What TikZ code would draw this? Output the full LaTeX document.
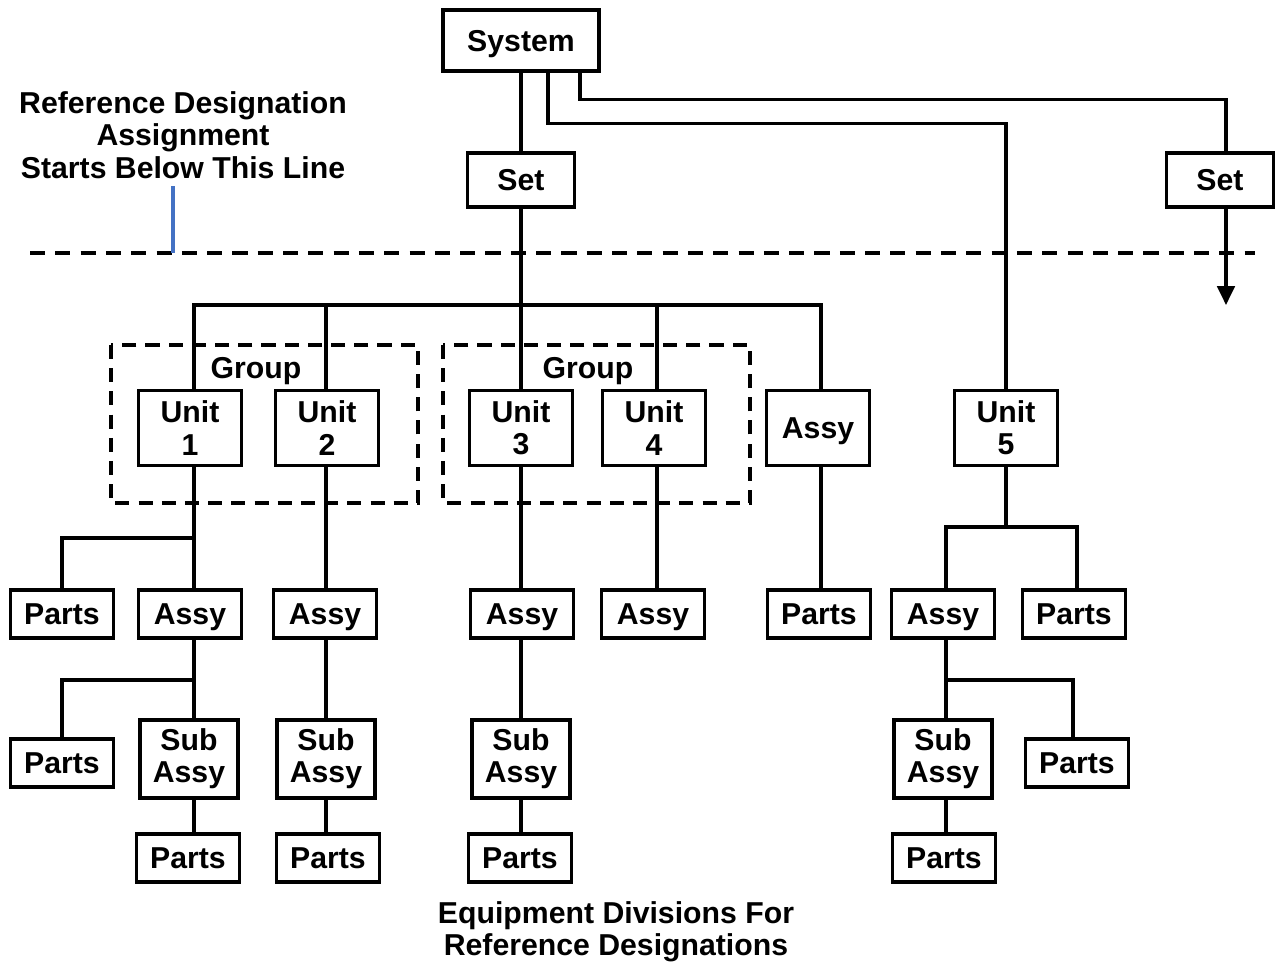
\documentclass[tikz,border=0pt]{standalone}
\usepackage{fontspec}
\setmainfont{Liberation Sans}
\usetikzlibrary{arrows.meta,positioning}
\definecolor{markblue}{HTML}{4472C4}

\tikzset{
  box/.style={draw,line width=0.9pt,fill=white,align=center,inner sep=1pt,
    minimum width=1.03cm,minimum height=0.48cm},
  blk/.style={box,text height=7pt,text depth=1pt},
  unitblk/.style={box,minimum height=0.75cm},
  subblk/.style={box,minimum width=0.98cm,minimum height=0.78cm},
  link/.style={line width=0.9pt},
  grpbox/.style={line width=0.9pt,dash pattern=on 4pt off 2.6pt},
}

\begin{document}
\begin{tikzpicture}[font=\fontsize{8.6}{9.2}\selectfont\bfseries]
\useasboundingbox (0,0) rectangle (12.75,-9.66);

% group frames
\draw[grpbox] (1.11,-3.45) rectangle (4.18,-5.03);
\draw[grpbox] (4.43,-3.45) rectangle (7.50,-5.03);
\node (grpA) at (2.56,-3.71) {Group};
\node (grpB) at (5.88,-3.71) {Group};

% assignment line
\coordinate (dashL) at (0.30,-2.53);
\coordinate (dashR) at (12.55,-2.53);
\draw[line width=0.9pt,dash pattern=on 4.3pt off 2.9pt] (dashL) -- (dashR);
\node[align=center] (refnote) at (1.83,-1.35) {Reference Designation\\Assignment\\Starts Below This Line};
\coordinate (marktop) at (1.73,-1.86);
\coordinate (markbot) at (1.73,-2.53);
\draw[markblue,line width=1pt] (marktop) -- (markbot);

% top levels
\node[blk,minimum width=1.56cm,minimum height=0.61cm] (sys) at (5.21,-0.405) {System};
\node[blk,minimum width=1.07cm,minimum height=0.54cm] (set1) at (5.21,-1.80) {Set};
\node[blk,minimum width=1.07cm,minimum height=0.54cm] (set2) at (12.20,-1.80) {Set};

% units
\node[unitblk] (u1) at (1.90,-4.28) {Unit\\1};
\node[unitblk] (u2) at (3.27,-4.28) {Unit\\2};
\node[unitblk] (u3) at (5.21,-4.28) {Unit\\3};
\node[unitblk] (u4) at (6.54,-4.28) {Unit\\4};
\node[blk,minimum height=0.75cm] (assyE) at (8.18,-4.28) {Assy};
\node[unitblk] (u5) at (10.06,-4.28) {Unit\\5};

% second row
\node[blk] (partsA) at (0.62,-6.14) {Parts};
\node[blk] (assyA) at (1.90,-6.14) {Assy};
\node[blk] (assyB) at (3.25,-6.14) {Assy};
\node[blk] (assyC) at (5.22,-6.14) {Assy};
\node[blk] (assyD) at (6.53,-6.14) {Assy};
\node[blk] (partsE) at (8.19,-6.14) {Parts};
\node[blk] (assyF) at (9.43,-6.14) {Assy};
\node[blk] (partsF) at (10.74,-6.14) {Parts};

% third row
\node[blk] (partsA2) at (0.62,-7.63) {Parts};
\node[subblk] (subA) at (1.89,-7.59) {Sub\\Assy};
\node[subblk] (subB) at (3.26,-7.59) {Sub\\Assy};
\node[subblk] (subC) at (5.21,-7.59) {Sub\\Assy};
\node[subblk] (subF) at (9.43,-7.59) {Sub\\Assy};
\node[blk] (partsF2) at (10.77,-7.63) {Parts};

% fourth row
\node[blk] (partsA3) at (1.88,-8.58) {Parts};
\node[blk] (partsB3) at (3.28,-8.58) {Parts};
\node[blk] (partsC3) at (5.20,-8.58) {Parts};
\node[blk] (partsF3) at (9.44,-8.58) {Parts};

% caption
\node[align=center] (caption) at (6.16,-9.32) {Equipment Divisions For\\Reference Designations};

% trunk x positions
\coordinate (xa) at (1.94,0);
\coordinate (xb) at (3.26,0);
\coordinate (xd) at (6.57,0);
\coordinate (xe) at (8.21,0);
\coordinate (xf) at (9.46,0);
\coordinate (xg) at (10.77,0);

% system links
\draw[link] (sys.south) -- (set1.north);
\draw[link] ([xshift=0.27cm]sys.south) -- ++(0,-0.51) -| (u5.north);
\draw[link] ([xshift=0.59cm]sys.south) -- ++(0,-0.27) -| ([xshift=0.06cm]set2.north);
\coordinate (setout) at (12.26,-3.05);
\draw[link,-{Triangle[width=5pt,length=5.4pt]}] ([xshift=0.06cm]set2.south) -- (setout);

% set bus
\coordinate (bus) at (5.21,-3.05);
\draw[link] (set1.south) -- (u3.north);
\draw[link] (u1.north -| xa) |- (bus) -| (assyE.north -| xe);
\draw[link] (u2.north -| xb) -- (bus -| xb);
\draw[link] (u4.north -| xd) -- (bus -| xd);

% unit 1 branch
\coordinate (brA) at (1.94,-5.38);
\draw[link] (u1.south -| xa) -- (assyA.north -| xa);
\draw[link] (brA) -| (partsA.north);
\coordinate (brA2) at (1.94,-6.80);
\draw[link] (assyA.south -| xa) -- (subA.north -| xa);
\draw[link] (brA2) -| (partsA2.north);
\draw[link] (subA.south -| xa) -- (partsA3.north -| xa);

% units 2, 3, 4 and assy
\draw[link] (u2.south -| xb) -- (assyB.north -| xb);
\draw[link] (assyB.south -| xb) -- (subB.north -| xb);
\draw[link] (subB.south -| xb) -- (partsB3.north -| xb);
\draw[link] (u3.south) -- (assyC.north -| u3);
\draw[link] (assyC.south -| u3) -- (subC.north -| u3);
\draw[link] (subC.south -| u3) -- (partsC3.north -| u3);
\draw[link] (u4.south -| xd) -- (assyD.north -| xd);
\draw[link] (assyE.south -| xe) -- (partsE.north -| xe);

% unit 5 branch
\coordinate (brF) at (10.06,-5.27);
\draw[link] (u5.south) -- (brF);
\draw[link] (assyF.north -| xf) |- (brF) -| (partsF.north -| xg);
\coordinate (brF2) at (9.46,-6.80);
\draw[link] (assyF.south -| xf) -- (subF.north -| xf);
\draw[link] (brF2) -| (partsF2.north -| 10.73,0);
\draw[link] (subF.south -| xf) -- (partsF3.north -| xf);
\end{tikzpicture}
\end{document}
